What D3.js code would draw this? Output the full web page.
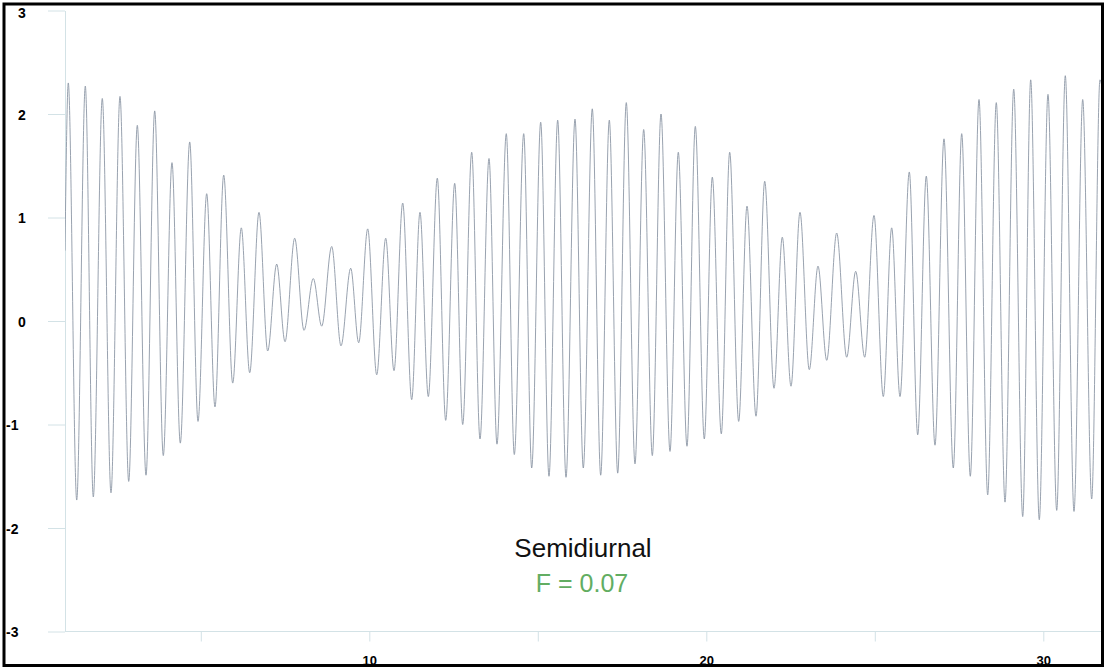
<!DOCTYPE html>
<html>
<head>
<meta charset="utf-8">
<script src="https://cdn.jsdelivr.net/npm/d3@7"></script>
<style>
  html, body { margin: 0; padding: 0; background: #fff; }
  svg { display: block; }
</style>
</head>
<body>
<svg id="chart" width="1105" height="668"></svg>
<script>
// ---- Data (days, water level) ----
const startPoint = [0.97, 0.68];
const highTimes = [1.068,1.573,2.077,2.602,3.116,3.632,4.145,4.671,5.175,5.680,6.202,6.727,7.252,7.786,8.338,8.884,9.448,9.953,10.487,10.991,11.504,12.018,12.534,13.039,13.552,14.065,14.582,15.086,15.590,16.104,16.617,17.122,17.626,18.142,18.656,19.169,19.674,20.178,20.694,21.208,21.733,22.255,22.780,23.315,23.869,24.433,24.976,25.501,26.024,26.528,27.053,27.579,28.092,28.605,29.122,29.626,30.139,30.653,31.169,31.682];
const highValues = [2.30,2.27,2.15,2.17,1.89,2.03,1.53,1.73,1.23,1.41,0.90,1.05,0.55,0.80,0.41,0.72,0.51,0.89,0.80,1.14,1.05,1.38,1.33,1.63,1.57,1.81,1.81,1.92,1.94,1.95,2.05,1.94,2.11,1.85,2.00,1.63,1.88,1.39,1.63,1.11,1.35,0.81,1.05,0.53,0.85,0.48,1.02,0.90,1.44,1.40,1.76,1.81,2.14,2.11,2.24,2.33,2.19,2.37,2.14,2.33];
const lowTimes = [1.318,1.810,2.335,2.861,3.374,3.887,4.392,4.917,5.421,5.947,6.451,6.985,7.499,8.062,8.588,9.160,9.685,10.220,10.733,11.258,11.751,12.267,12.772,13.285,13.789,14.303,14.819,15.332,15.837,16.350,16.866,17.371,17.884,18.398,18.923,19.427,19.941,20.445,20.961,21.475,22.009,22.513,23.056,23.573,24.166,24.700,25.252,25.748,26.273,26.786,27.329,27.834,28.350,28.864,29.389,29.881,30.398,30.911,31.436];
const lowValues = [-1.73,-1.70,-1.66,-1.55,-1.49,-1.30,-1.18,-0.97,-0.83,-0.60,-0.50,-0.29,-0.20,-0.09,-0.05,-0.24,-0.21,-0.52,-0.48,-0.76,-0.73,-0.96,-1.00,-1.14,-1.19,-1.29,-1.42,-1.50,-1.51,-1.42,-1.49,-1.47,-1.38,-1.30,-1.26,-1.21,-1.14,-1.09,-0.97,-0.92,-0.65,-0.63,-0.47,-0.38,-0.35,-0.35,-0.73,-0.73,-1.10,-1.20,-1.42,-1.50,-1.68,-1.75,-1.89,-1.92,-1.83,-1.84,-1.72];
const endPoint = [31.80, 2.10];

const yTicks = [-3, -2, -1, 0, 1, 2, 3];
const xTicks = [5, 10, 15, 20, 25, 30];
const xLabelTicks = [10, 20, 30];
const title = "Semidiurnal";
const formFactor = "F = 0.07";

// ---- Build series ----
const series = [startPoint];
highTimes.forEach((t, i) => {
  series.push([t, highValues[i]]);
  if (i < lowTimes.length) series.push([lowTimes[i], lowValues[i]]);
});
series.push(endPoint);

const svg = d3.select("#chart");
const W = 1105, H = 668;
const axisX = 65, plotRight = 1103;

const x = d3.scaleLinear().domain([0, 32]).range([32.3, 32.3 + 32 * 33.7]);
const y = d3.scaleLinear().domain([-3, 3]).range([631.5, 10.5]);

const axisColor = "#d3e2e6";
const fontFam = "Liberation Sans, Arial, sans-serif";

svg.append("defs").append("clipPath").attr("id", "clip")
  .append("rect").attr("x", axisX).attr("y", 0).attr("width", plotRight - axisX).attr("height", H);

// Y axis
const yAxis = svg.append("g").attr("transform", `translate(${axisX},0)`)
  .call(d3.axisLeft(y).tickValues(yTicks).tickSize(17).tickSizeOuter(0).tickFormat(d => String(d)));
yAxis.attr("font-size", null).attr("font-family", null);
yAxis.select(".domain").attr("stroke", axisColor);
yAxis.selectAll(".tick line").attr("stroke", axisColor);
yAxis.selectAll(".tick text")
  .attr("fill", "#000")
  .style("font-family", fontFam)
  .style("font-weight", "bold")
  .style("font-size", "14px")
  .attr("text-anchor", "start")
  .attr("x", d => (d < 0 ? 6 : 18) - axisX)
  .attr("dy", d => d === 3 ? "0.5em" : "0.36em");

// X axis
const xAxis = svg.append("g").attr("transform", `translate(0,${y(-3)})`)
  .call(d3.axisBottom(x).tickValues(xTicks).tickSize(10).tickPadding(14)
    .tickFormat(d => xLabelTicks.includes(d) ? d : ""));
xAxis.attr("font-size", null).attr("font-family", null);
xAxis.select(".domain").remove();
xAxis.append("line").attr("x1", axisX).attr("x2", plotRight).attr("y1", 0).attr("y2", 0).attr("stroke", axisColor);
xAxis.selectAll(".tick line").attr("stroke", axisColor);
xAxis.selectAll(".tick text")
  .attr("fill", "#000")
  .style("font-family", fontFam)
  .style("font-weight", "bold")
  .style("font-size", "13px");

// Tide curve
const line = d3.line().x(d => x(d[0])).y(d => y(d[1])).curve(d3.curveMonotoneX);
svg.append("path")
  .datum(series)
  .attr("clip-path", "url(#clip)")
  .attr("fill", "none")
  .attr("stroke", "#8d97a6")
  .attr("stroke-width", 0.9)
  .attr("d", line);

// Annotations
svg.append("text").attr("x", 583).attr("y", 557)
  .attr("text-anchor", "middle")
  .style("font-family", fontFam)
  .style("font-size", "26px").attr("fill", "#111").text(title);
svg.append("text").attr("x", 582).attr("y", 592)
  .attr("text-anchor", "middle")
  .style("font-family", fontFam)
  .style("font-size", "25px").attr("fill", "#62ad62").text(formFactor);

// Frame
svg.append("rect").attr("x", 4).attr("y", 4).attr("width", W - 6.5).attr("height", H - 6.5)
  .attr("fill", "none").attr("stroke", "#000").attr("stroke-width", 3);
</script>
</body>
</html>
